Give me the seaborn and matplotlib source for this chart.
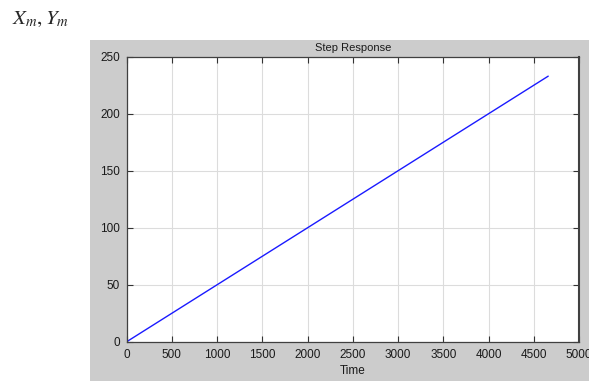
import numpy as np
import pandas as pd
import matplotlib
matplotlib.use("Agg")
import matplotlib.pyplot as plt
import seaborn as sns
from matplotlib.patches import Rectangle

# data
time = [0, 4660]
response = [0, 233]
x_ticks = [0, 500, 1000, 1500, 2000, 2500, 3000, 3500, 4000, 4500, 5000]
y_ticks = [0, 50, 100, 150, 200, 250]

df = pd.DataFrame({"Time": time, "Response": response})

sns.set_style("whitegrid")
plt.rcParams['font.family'] = ['Liberation Sans', 'DejaVu Sans']
plt.rcParams['mathtext.fontset'] = 'stix'

fig = plt.figure(figsize=(5.89, 3.81), dpi=100)
fig.patch.set_facecolor("white")

# gray MATLAB-style figure panel, behind the axes
fig.patches.append(Rectangle((90 / 589, 0), 1 - 90 / 589, (381 - 40) / 381,
                             transform=fig.transFigure, facecolor="#cccccc",
                             edgecolor="none", zorder=-10))

ax = fig.add_axes([0.215, 0.103, 0.768, 0.748])
ax.set_facecolor("white")
sns.lineplot(data=df, x="Time", y="Response", ax=ax, color="#1a1aff", linewidth=1)

ax.set_xlim(0, 5000)
ax.set_ylim(0, 250)
ax.set_xticks(x_ticks)
ax.set_yticks(y_ticks)
ax.grid(True, color="#dcdcdc", linewidth=0.8)
ax.tick_params(axis="both", which="both", direction="in", length=4, width=0.8,
               color="#333333", labelcolor="#1a1a1a", labelsize=8.5, pad=5,
               top=True, right=True, bottom=True, left=True)
for s in ax.spines.values():
    s.set_color("#404040")
    s.set_linewidth(0.9)
ax.spines["right"].set_linewidth(1.5)

ax.set_title("Step Response", fontsize=8, pad=4, color="#1a1a1a")
ax.set_xlabel("Time", fontsize=8.5, labelpad=3, color="#1a1a1a")
ax.set_ylabel("")

fig.text(0.02, 0.95, r"$X_m, Y_m$", fontsize=15, ha="left", va="center")

fig.savefig("out.png", dpi=100)
